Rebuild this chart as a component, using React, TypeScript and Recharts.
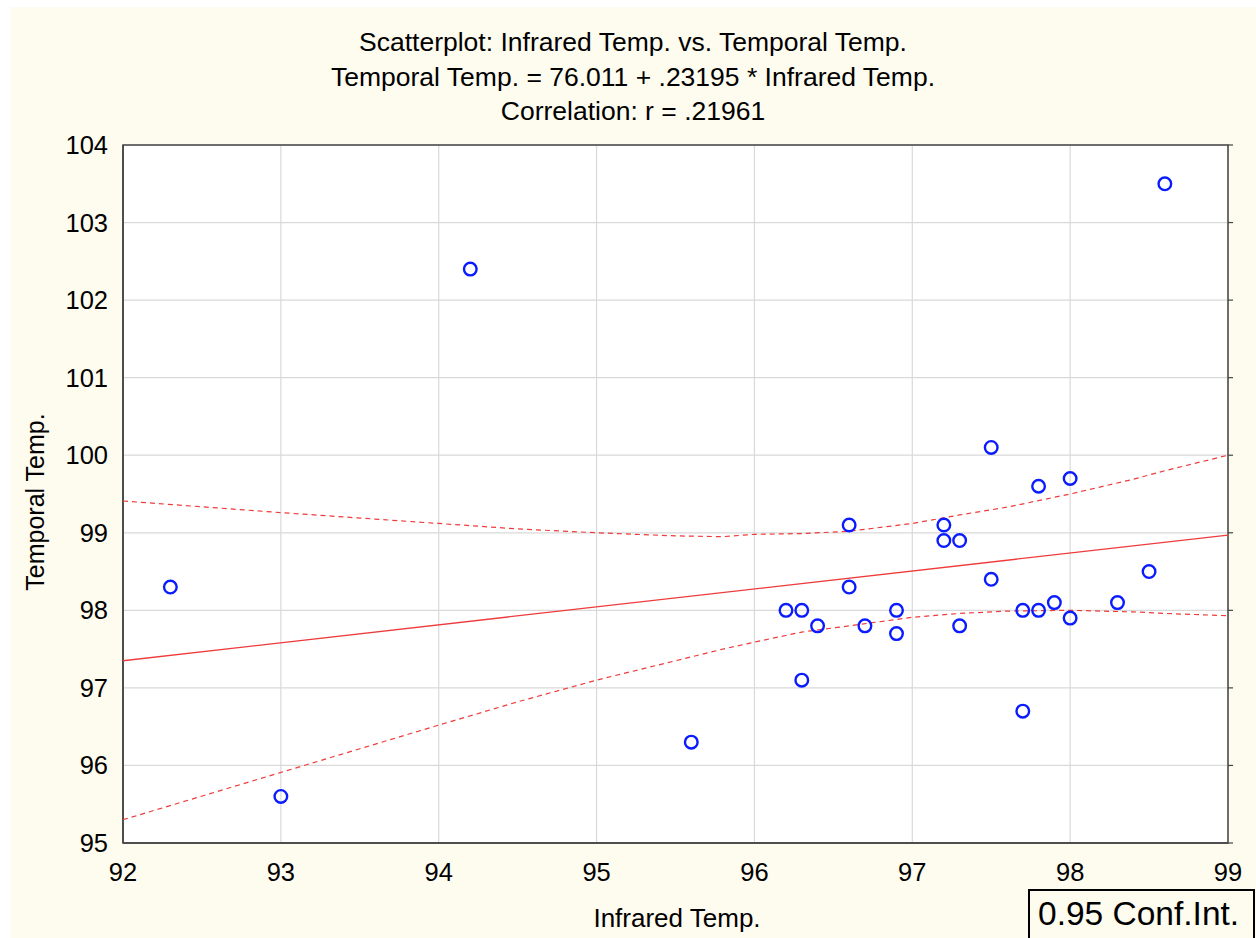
import React from 'react';
import { ScatterChart, Scatter, XAxis, YAxis, CartesianGrid, ReferenceArea } from 'recharts';

const xTicks = [92, 93, 94, 95, 96, 97, 98, 99];
const yTicks = [95, 96, 97, 98, 99, 100, 101, 102, 103, 104];

const infraredTemp = [92.3, 93.0, 94.2, 95.6, 96.2, 96.3, 96.3, 96.4, 96.6, 96.6, 96.7, 96.9, 96.9, 97.2, 97.2, 97.3, 97.3, 97.5, 97.5, 97.7, 97.7, 97.8, 97.8, 97.9, 98.0, 98.0, 98.3, 98.5, 98.6];
const temporalTemp = [98.3, 95.6, 102.4, 96.3, 98.0, 98.0, 97.1, 97.8, 99.1, 98.3, 97.8, 98.0, 97.7, 99.1, 98.9, 98.9, 97.8, 100.1, 98.4, 98.0, 96.7, 99.6, 98.0, 98.1, 99.7, 97.9, 98.1, 98.5, 103.5];

const fitX = [92, 99];
const fitY = [97.35, 98.97];

const bandX = [92, 93, 94, 94.5, 95, 95.5, 95.8, 96, 96.3, 96.6, 97, 97.3, 97.6, 98, 98.4, 98.6, 99];
const upperBand = [99.41, 99.26, 99.12, 99.05, 99.0, 98.96, 98.95, 98.98, 98.99, 99.02, 99.12, 99.23, 99.33, 99.5, 99.69, 99.8, 100.0];
const lowerBand = [95.3, 95.91, 96.52, 96.82, 97.1, 97.35, 97.5, 97.59, 97.72, 97.8, 97.91, 97.96, 97.99, 98.0, 97.98, 97.96, 97.93];

const titleLines = [
  'Scatterplot: Infrared Temp. vs. Temporal Temp.',
  'Temporal Temp. = 76.011 + .23195 * Infrared Temp.',
  'Correlation: r = .21961',
];
const xLabel = 'Infrared Temp.';
const yLabel = 'Temporal Temp.';
const legendText = '0.95 Conf.Int.';

const points = infraredTemp.map((x, i) => ({ x, y: temporalTemp[i] }));
const fitData = fitX.map((x, i) => ({ x, y: fitY[i] }));
const upperData = bandX.map((x, i) => ({ x, y: upperBand[i] }));
const lowerData = bandX.map((x, i) => ({ x, y: lowerBand[i] }));

const FONT = '"Liberation Sans", Arial, Helvetica, sans-serif';
const CREAM = '#fefbef';
const RED = '#ee3b3b';

const Ring = (props: any) => {
  const { cx, cy } = props;
  if (cx == null || cy == null) return <g />;
  return <circle cx={cx} cy={cy} r={6.3} fill="none" stroke="#0a1cff" strokeWidth={2.4} />;
};

const NoShape = () => <g />;

export default function App() {
  return (
    <div style={{ position: 'absolute', left: 0, top: 0, width: 1256, height: 938, background: '#ffffff', overflow: 'hidden' }}>
      <div style={{ position: 'absolute', left: 11, top: 7, width: 1245, height: 931, background: CREAM }} />
      <div style={{ position: 'absolute', left: 0, top: 0 }}>
        <ScatterChart width={1256} height={938} margin={{ top: 145, right: 0, bottom: 0, left: 23 }}>
          <CartesianGrid stroke="#d9d9d9" strokeWidth={1.2} fill="#ffffff" />
          <XAxis
            type="number"
            dataKey="x"
            domain={[92, 99]}
            ticks={xTicks}
            allowDataOverflow
            height={95}
            tickSize={8}
            tickMargin={12}
            tickLine={false}
            axisLine={{ stroke: '#444', strokeWidth: 1.5 }}
            tick={{ fill: '#000', fontSize: 25.5, fontFamily: FONT }}
          />
          <YAxis
            type="number"
            dataKey="y"
            domain={[95, 104]}
            ticks={yTicks}
            allowDataOverflow
            width={100}
            tickSize={8}
            tickMargin={7}
            tickLine={false}
            axisLine={{ stroke: '#444', strokeWidth: 1.5 }}
            tick={{ fill: '#000', fontSize: 25.5, fontFamily: FONT }}
          />
          <YAxis
            yAxisId="r"
            orientation="right"
            type="number"
            domain={[95, 104]}
            ticks={yTicks}
            allowDataOverflow
            width={28}
            tickSize={5}
            tickLine={{ stroke: '#444', strokeWidth: 1.2 }}
            axisLine={false}
            tickFormatter={() => ''}
          />
          <ReferenceArea x1={92} x2={99} y1={95} y2={104} fill="none" stroke="#444" strokeWidth={1.5} ifOverflow="visible" />
          <Scatter data={upperData} line={{ stroke: RED, strokeWidth: 1.2, strokeDasharray: '5 4' }} shape={NoShape} isAnimationActive={false} />
          <Scatter data={lowerData} line={{ stroke: RED, strokeWidth: 1.2, strokeDasharray: '5 4' }} shape={NoShape} isAnimationActive={false} />
          <Scatter data={fitData} line={{ stroke: RED, strokeWidth: 1.3 }} shape={NoShape} isAnimationActive={false} />
          <Scatter data={points} shape={Ring} isAnimationActive={false} />
        </ScatterChart>
      </div>
      <svg width={1256} height={938} style={{ position: 'absolute', left: 0, top: 0, pointerEvents: 'none' }}>
        {titleLines.map((t, i) => (
          <text key={i} x={633} y={51 + i * 34.5} textAnchor="middle" fontSize={26.5} fontFamily={FONT} fill="#000">
            {t}
          </text>
        ))}
        <text x={677} y={927} textAnchor="middle" fontSize={26} fontFamily={FONT} fill="#000">
          {xLabel}
        </text>
        <text transform="translate(44,502) rotate(-90)" textAnchor="middle" fontSize={25} fontFamily={FONT} fill="#000">
          {yLabel}
        </text>
        <rect x={1029} y={890} width={225} height={60} fill="none" stroke="#000" strokeWidth={2} />
        <text x={1038} y={925} fontSize={33.5} fontFamily={FONT} fill="#000">
          {legendText}
        </text>
      </svg>
    </div>
  );
}
